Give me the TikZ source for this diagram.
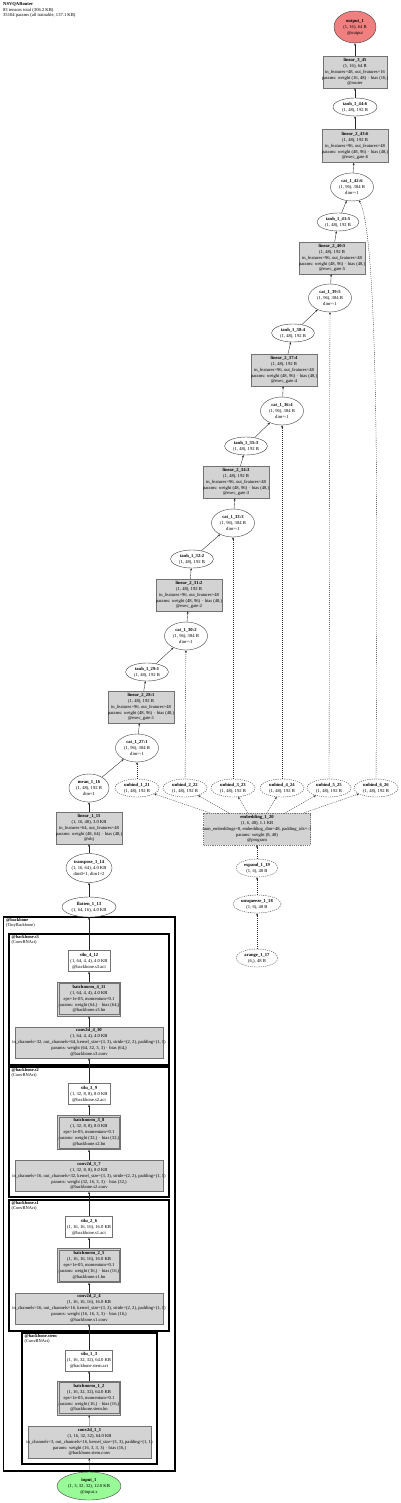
\documentclass[tikz,border=0pt]{standalone}
\usepackage{fontspec}
\setmainfont{Liberation Serif}
\usetikzlibrary{arrows.meta,shapes.geometric}
\definecolor{boxgray}{HTML}{D3D3D3}
\definecolor{outred}{HTML}{F08080}
\definecolor{ingreen}{HTML}{98FB98}
\newcommand{\T}[1]{\makebox[0pt][c]{\begin{tabular}{@{}c@{}}#1\end{tabular}}}
\begin{document}
\begin{tikzpicture}[x=1pt,y=-1pt,
  every node/.style={font=\fontsize{4.6}{5.9}\selectfont, inner sep=0pt},
  gbox/.style={rectangle, draw=black!55, fill=boxgray, line width=0.45pt},
  wbox/.style={rectangle, draw=black!55, fill=white, line width=0.45pt},
  bnbox/.style={gbox},
  ell/.style={ellipse, draw=black!75, fill=white, line width=0.4pt},
  dell/.style={ell, dash pattern=on 1.2pt off 1pt},
  dbox/.style={gbox, dash pattern=on 1.2pt off 1pt},
  edge/.style={-{Stealth[length=2.4pt,width=2pt]}, line width=0.35pt, black!85},
  dedge/.style={edge, dash pattern=on 1pt off 1pt},
  lab/.style={anchor=north west, align=left, font=\fontsize{4.4}{4.8}\selectfont},
]
\fill[white] (0,0) rectangle (400,1503);
\useasboundingbox (0,0) rectangle (400,1503);

% header
\node[anchor=north west, align=left, font=\fontsize{4.6}{5.6}\selectfont] (hdr) at (3,2.5)
  {\textbf{NSVQARouter}\\83 tensors total (306.2 KB)\\35104 params (all trainable, 137.1 KB)};

% clusters
\draw[line width=1.6pt] (3.5,917) rectangle (175,1471);
\node[lab] (lbb) at (6,918.5) {\textbf{@backbone}\\(TinyBackbone)};
\draw[line width=1.1pt] (9,934) rectangle (169,1065);
\node[lab] (ls3) at (11.5,935.5) {\textbf{@backbone.s3}\\(ConvBNAct)};
\draw[line width=1.1pt] (9,1067) rectangle (169,1197);
\node[lab] (ls2) at (11.5,1068.5) {\textbf{@backbone.s2}\\(ConvBNAct)};
\draw[line width=1.1pt] (9,1200) rectangle (169,1331);
\node[lab] (ls1) at (11.5,1201.5) {\textbf{@backbone.s1}\\(ConvBNAct)};
\draw[line width=1.1pt] (22,1333) rectangle (157,1464);
\node[lab] (lst) at (24.5,1334.5) {\textbf{@backbone.stem}\\(ConvBNAct)};

% top chain
\node[ell, fill=outred, minimum width=42, minimum height=32] (out) at (355,27)
  {\T{\textbf{output\_1}\\(1, 16), 64 B\\@output}};
\node[gbox, minimum width=64, minimum height=32] (l345) at (355,72)
  {\T{\textbf{linear\_3\_45}\\(1, 16), 64 B\\in\_features=48, out\_features=16\\params: weight (16, 48) $\cdot$ bias (16,)\\@router}};
\node[ell, minimum width=44, minimum height=18] (t44) at (355,107)
  {\T{\textbf{tanh\_1\_44:6}\\(1, 48), 192 B}};
\node[gbox, minimum width=66, minimum height=33] (l43) at (355,146)
  {\T{\textbf{linear\_2\_43:6}\\(1, 48), 192 B\\in\_features=96, out\_features=48\\params: weight (48, 96) $\cdot$ bias (48,)\\@exec\_gate:6}};
\node[ell, minimum width=43, minimum height=28] (c42) at (352,187)
  {\T{\textbf{cat\_1\_42:6}\\(1, 96), 384 B\\dim=-1}};
\node[ell, minimum width=42, minimum height=18] (t41) at (338,222)
  {\T{\textbf{tanh\_1\_41:5}\\(1, 48), 192 B}};
\node[gbox, minimum width=66, minimum height=32] (l40) at (332,258)
  {\T{\textbf{linear\_2\_40:5}\\(1, 48), 192 B\\in\_features=96, out\_features=48\\params: weight (48, 96) $\cdot$ bias (48,)\\@exec\_gate:5}};
\node[ell, minimum width=43, minimum height=28] (c39) at (330,298)
  {\T{\textbf{cat\_1\_39:5}\\(1, 96), 384 B\\dim=-1}};
\node[ell, minimum width=43, minimum height=18] (t38) at (293,333)
  {\T{\textbf{tanh\_1\_38:4}\\(1, 48), 192 B}};
\node[gbox, minimum width=66, minimum height=32] (l37) at (284,370)
  {\T{\textbf{linear\_2\_37:4}\\(1, 48), 192 B\\in\_features=96, out\_features=48\\params: weight (48, 96) $\cdot$ bias (48,)\\@exec\_gate:4}};
\node[ell, minimum width=43, minimum height=28] (c36) at (282,411)
  {\T{\textbf{cat\_1\_36:4}\\(1, 96), 384 B\\dim=-1}};
\node[ell, minimum width=43, minimum height=18] (t35) at (246,446)
  {\T{\textbf{tanh\_1\_35:3}\\(1, 48), 192 B}};
\node[gbox, minimum width=66, minimum height=32] (l34) at (236,482)
  {\T{\textbf{linear\_2\_34:3}\\(1, 48), 192 B\\in\_features=96, out\_features=48\\params: weight (48, 96) $\cdot$ bias (48,)\\@exec\_gate:3}};
\node[ell, minimum width=43, minimum height=28] (c33) at (233,523)
  {\T{\textbf{cat\_1\_33:3}\\(1, 96), 384 B\\dim=-1}};
\node[ell, minimum width=43, minimum height=18] (t32) at (192,559)
  {\T{\textbf{tanh\_1\_32:2}\\(1, 48), 192 B}};
\node[gbox, minimum width=66, minimum height=32] (l31) at (189,595)
  {\T{\textbf{linear\_2\_31:2}\\(1, 48), 192 B\\in\_features=96, out\_features=48\\params: weight (48, 96) $\cdot$ bias (48,)\\@exec\_gate:2}};
\node[ell, minimum width=43, minimum height=28] (c30) at (186,636)
  {\T{\textbf{cat\_1\_30:2}\\(1, 96), 384 B\\dim=-1}};
\node[ell, minimum width=43, minimum height=18] (t29) at (147,672)
  {\T{\textbf{tanh\_1\_29:1}\\(1, 48), 192 B}};
\node[gbox, minimum width=66, minimum height=32] (l28) at (141,707)
  {\T{\textbf{linear\_2\_28:1}\\(1, 48), 192 B\\in\_features=96, out\_features=48\\params: weight (48, 96) $\cdot$ bias (48,)\\@exec\_gate:1}};
\node[ell, minimum width=43, minimum height=28] (c27) at (137,748)
  {\T{\textbf{cat\_1\_27:1}\\(1, 96), 384 B\\dim=-1}};

% unbinds
\node[ell, minimum width=40, minimum height=28] (mean) at (89,788)
  {\T{\textbf{mean\_1\_16}\\(1, 48), 192 B\\dim=1}};
\node[dell, minimum width=44, minimum height=18] (u1) at (137,788) {\T{\textbf{unbind\_1\_21}\\(1, 48), 192 B}};
\node[dell, minimum width=44, minimum height=18] (u2) at (185,788) {\T{\textbf{unbind\_2\_22}\\(1, 48), 192 B}};
\node[dell, minimum width=44, minimum height=18] (u3) at (233,788) {\T{\textbf{unbind\_3\_23}\\(1, 48), 192 B}};
\node[dell, minimum width=44, minimum height=18] (u4) at (282,788) {\T{\textbf{unbind\_4\_24}\\(1, 48), 192 B}};
\node[dell, minimum width=44, minimum height=18] (u5) at (329,788) {\T{\textbf{unbind\_5\_25}\\(1, 48), 192 B}};
\node[dell, minimum width=44, minimum height=18] (u6) at (376,788) {\T{\textbf{unbind\_6\_26}\\(1, 48), 192 B}};

\node[gbox, minimum width=66, minimum height=32] (l15) at (89,828)
  {\T{\textbf{linear\_1\_15}\\(1, 16, 48), 3.0 KB\\in\_features=64, out\_features=48\\params: weight (48, 64) $\cdot$ bias (48,)\\@obj}};
\node[dbox, minimum width=107, minimum height=32] (emb) at (257,829)
  {\T{\textbf{embedding\_1\_20}\\(1, 6, 48), 1.1 KB\\num\_embeddings=8, embedding\_dim=48, padding\_idx=-1\\params: weight (8, 48)\\@program}};
\node[ell, minimum width=46, minimum height=29] (tr) at (89,868)
  {\T{\textbf{transpose\_1\_14}\\(1, 16, 64), 4.0 KB\\dim0=1, dim1=2}};
\node[dell, minimum width=42, minimum height=18] (exp) at (257,868)
  {\T{\textbf{expand\_1\_19}\\(1, 6), 48 B}};
\node[dell, minimum width=48, minimum height=18] (unsq) at (257,904)
  {\T{\textbf{unsqueeze\_1\_18}\\(1, 6), 48 B}};
\node[dell, minimum width=42, minimum height=18] (ar) at (257,958)
  {\T{\textbf{arange\_1\_17}\\(6,), 48 B}};
\node[ell, minimum width=54, minimum height=20] (fl) at (89,907)
  {\T{\textbf{flatten\_1\_13}\\(1, 64, 16), 4.0 KB}};

% backbone
\node[wbox, minimum width=42, minimum height=21] (s4) at (89,961)
  {\T{\textbf{silu\_4\_12}\\(1, 64, 4, 4), 4.0 KB\\@backbone.s3.act}};
\node[bnbox, minimum width=63, minimum height=34] (b4) at (89,999)
  {\T{\textbf{batchnorm\_4\_11}\\(1, 64, 4, 4), 4.0 KB\\eps=1e-05, momentum=0.1\\params: weight (64,) $\cdot$ bias (64,)\\@backbone.s3.bn}};
\node[gbox, minimum width=148, minimum height=31] (cv4) at (89,1042.5)
  {\T{\textbf{conv2d\_4\_10}\\(1, 64, 4, 4), 4.0 KB\\in\_channels=32, out\_channels=64, kernel\_size=(3, 3), stride=(2, 2), padding=(1, 1)\\params: weight (64, 32, 3, 3) $\cdot$ bias (64,)\\@backbone.s3.conv}};

\node[wbox, minimum width=42, minimum height=21] (s3) at (89,1094)
  {\T{\textbf{silu\_3\_9}\\(1, 32, 8, 8), 8.0 KB\\@backbone.s2.act}};
\node[bnbox, minimum width=63, minimum height=34] (b3) at (89,1132.5)
  {\T{\textbf{batchnorm\_3\_8}\\(1, 32, 8, 8), 8.0 KB\\eps=1e-05, momentum=0.1\\params: weight (32,) $\cdot$ bias (32,)\\@backbone.s2.bn}};
\node[gbox, minimum width=148, minimum height=31] (cv3) at (89,1176)
  {\T{\textbf{conv2d\_3\_7}\\(1, 32, 8, 8), 8.0 KB\\in\_channels=16, out\_channels=32, kernel\_size=(3, 3), stride=(2, 2), padding=(1, 1)\\params: weight (32, 16, 3, 3) $\cdot$ bias (32,)\\@backbone.s2.conv}};

\node[wbox, minimum width=47, minimum height=21] (s2) at (89,1227)
  {\T{\textbf{silu\_2\_6}\\(1, 16, 16, 16), 16.0 KB\\@backbone.s1.act}};
\node[bnbox, minimum width=63, minimum height=34] (b2) at (89,1265.5)
  {\T{\textbf{batchnorm\_2\_5}\\(1, 16, 16, 16), 16.0 KB\\eps=1e-05, momentum=0.1\\params: weight (16,) $\cdot$ bias (16,)\\@backbone.s1.bn}};
\node[gbox, minimum width=148, minimum height=31] (cv2) at (89,1308.5)
  {\T{\textbf{conv2d\_2\_4}\\(1, 16, 16, 16), 16.0 KB\\in\_channels=16, out\_channels=16, kernel\_size=(3, 3), stride=(2, 2), padding=(1, 1)\\params: weight (16, 16, 3, 3) $\cdot$ bias (16,)\\@backbone.s1.conv}};

\node[wbox, minimum width=47, minimum height=21] (s1) at (89,1360.5)
  {\T{\textbf{silu\_1\_3}\\(1, 16, 32, 32), 64.0 KB\\@backbone.stem.act}};
\node[bnbox, minimum width=63, minimum height=34] (b1) at (89,1398)
  {\T{\textbf{batchnorm\_1\_2}\\(1, 16, 32, 32), 64.0 KB\\eps=1e-05, momentum=0.1\\params: weight (16,) $\cdot$ bias (16,)\\@backbone.stem.bn}};
\node[gbox, minimum width=123, minimum height=32] (cv1) at (89.5,1442)
  {\T{\textbf{conv2d\_1\_1}\\(1, 16, 32, 32), 64.0 KB\\in\_channels=3, out\_channels=16, kernel\_size=(3, 3), padding=(1, 1)\\params: weight (16, 3, 3, 3) $\cdot$ bias (16,)\\@backbone.stem.conv}};
\node[ell, fill=ingreen, minimum width=64, minimum height=28] (in) at (89,1486)
  {\T{\textbf{input\_1}\\(1, 3, 32, 32), 12.0 KB\\@input.x}};

% inner border of the batchnorm boxes (double outline)
\foreach \n in {b1,b2,b3,b4}
  \draw[draw=black!55, line width=0.45pt] ([shift={(1.6,1.6)}]\n.north west) rectangle ([shift={(-1.6,-1.6)}]\n.south east);

% edges main chain
\foreach \a/\b in {in/cv1, cv1/b1, b1/s1, s1/cv2, cv2/b2, b2/s2, s2/cv3, cv3/b3, b3/s3, s3/cv4, cv4/b4, b4/s4, s4/fl, fl/tr, tr/l15, l15/mean, mean/c27,
  c27/l28, l28/t29, t29/c30, c30/l31, l31/t32, t32/c33, c33/l34, l34/t35, t35/c36, c36/l37, l37/t38, t38/c39, c39/l40, l40/t41, t41/c42, c42/l43, l43/t44, t44/l345, l345/out}
  \draw[edge] (\a) -- (\b);

% dashed branch
\foreach \a/\b in {ar/unsq, unsq/exp, exp/emb, emb/u1, emb/u2, emb/u3, emb/u4, emb/u5, emb/u6, u1/c27, u2/c30, u3/c33, u4/c36, u5/c39}
  \draw[dedge] (\a) -- (\b);
\draw[dedge] (u6) .. controls (377,560) and (380,240) .. (c42);
\end{tikzpicture}
\end{document}
